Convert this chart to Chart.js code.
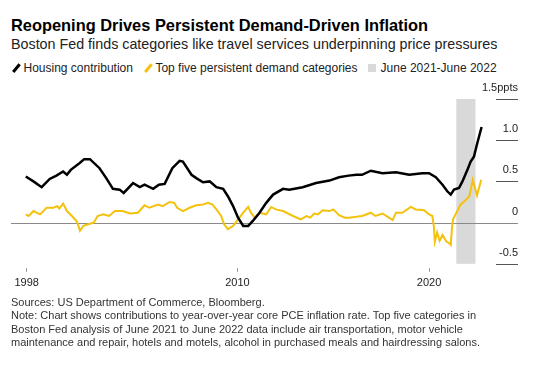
<!DOCTYPE html>
<html>
<head>
<meta charset="utf-8">
<script src="https://cdn.jsdelivr.net/npm/chart.js@4.4.0/dist/chart.umd.min.js"></script>
<style>
  body { margin: 0; width: 539px; height: 368px; background: #fff; position: relative; overflow: hidden;
         font-family: 'Liberation Sans', Arial, sans-serif; }
  #title { position: absolute; left: 11px; top: 16px; font-size: 16.4px; font-weight: bold; line-height: 19px; color: #000; white-space: nowrap; }
  #subtitle { position: absolute; left: 11px; top: 36px; font-size: 14.3px; line-height: 17px; color: #222; white-space: nowrap; }
  #legend { position: absolute; left: 11px; top: 60px; font-size: 12px; line-height: 16px; color: #222; display: flex; white-space: nowrap; }
  .item { display: flex; align-items: center; margin-right: 10px; }
  .slash { display: inline-block; width: 2.5px; height: 10px; margin: 0 6px 0 4px; transform: rotate(40deg); }
  .box { display: inline-block; width: 8px; height: 8px; margin-right: 5px; }
  #wrap { position: absolute; left: 0; top: 80px; width: 539px; height: 217px; }
  #note { position: absolute; left: 11px; top: 296px; font-size: 11px; line-height: 13.3px; color: #333; white-space: nowrap; }
</style>
</head>
<body>
<div id="title">Reopening Drives Persistent Demand-Driven Inflation</div>
<div id="subtitle">Boston Fed finds categories like travel services underpinning price pressures</div>
<div id="legend"></div>
<div id="wrap"><canvas id="chart"></canvas></div>
<div id="note">Sources: US Department of Commerce, Bloomberg.<br>
Note: Chart shows contributions to year-over-year core PCE inflation rate. Top five categories in<br>
Boston Fed analysis of June 2021 to June 2022 data include air transportation, motor vehicle<br>
maintenance and repair, hotels and motels, alcohol in purchased meals and hairdressing salons.</div>

<script>
// Housing contribution (ppts)
const housingYears = [1998.95, 1999.35, 1999.78, 2000.2, 2000.55, 2000.9, 2001.1, 2001.3, 2001.75, 2002.0,
  2002.3, 2002.8, 2003.15, 2003.5, 2003.85, 2004.06, 2004.55, 2004.9, 2005.15, 2005.6,
  2005.9, 2006.2, 2006.6, 2006.98, 2007.15, 2007.6, 2007.85, 2008.2, 2008.55, 2008.9,
  2009.25, 2009.5, 2009.77, 2010.03, 2010.3, 2010.56, 2010.8, 2011.15, 2011.5, 2011.86,
  2012.38, 2012.7, 2013.4, 2014.1, 2014.8, 2015.3, 2015.8, 2016.2, 2016.5, 2016.96,
  2017.57, 2018.27, 2018.96, 2019.65, 2020.0, 2020.35, 2020.7, 2020.95, 2021.13, 2021.3,
  2021.56, 2021.74, 2022.0, 2022.17, 2022.34, 2022.5, 2022.74];
const housingValues = [0.56, 0.50, 0.43, 0.53, 0.57, 0.62, 0.58, 0.64, 0.72, 0.77,
  0.77, 0.66, 0.54, 0.41, 0.40, 0.36, 0.48, 0.43, 0.46, 0.41,
  0.46, 0.47, 0.66, 0.75, 0.74, 0.58, 0.54, 0.49, 0.50, 0.43,
  0.41, 0.32, 0.20, 0.06, -0.04, -0.04, 0.02, 0.12, 0.24, 0.34,
  0.41, 0.40, 0.43, 0.48, 0.51, 0.55, 0.57, 0.58, 0.58, 0.63,
  0.60, 0.61, 0.58, 0.60, 0.60, 0.55, 0.46, 0.38, 0.34, 0.40,
  0.42, 0.50, 0.64, 0.74, 0.80, 0.95, 1.16];

// Top five persistent demand categories (ppts)
const demandYears = [1998.95, 1999.1, 1999.35, 1999.7, 2000.04, 2000.4, 2000.6, 2000.7, 2000.9, 2001.1,
  2001.36, 2001.6, 2001.7, 2001.78, 2001.96, 2002.2, 2002.5, 2002.7, 2003.0, 2003.3,
  2003.6, 2004.0, 2004.4, 2004.8, 2005.15, 2005.4, 2005.85, 2006.1, 2006.46, 2006.7,
  2006.85, 2007.15, 2007.5, 2007.85, 2008.2, 2008.46, 2008.7, 2008.9, 2009.15, 2009.3,
  2009.5, 2009.77, 2010.03, 2010.3, 2010.56, 2010.7, 2010.9, 2011.15, 2011.5, 2011.76,
  2012.0, 2012.38, 2012.9, 2013.3, 2013.6, 2013.8, 2014.0, 2014.2, 2014.45, 2014.8,
  2015.0, 2015.3, 2015.6, 2015.83, 2016.2, 2016.5, 2016.96, 2017.2, 2017.57, 2017.9,
  2018.1, 2018.27, 2018.6, 2019.05, 2019.3, 2019.74, 2020.0, 2020.17, 2020.25, 2020.3,
  2020.42, 2020.55, 2020.7, 2020.9, 2021.05, 2021.13, 2021.2, 2021.25, 2021.38, 2021.65,
  2021.9, 2022.1, 2022.28, 2022.5, 2022.72];
const demandValues = [0.10, 0.08, 0.14, 0.10, 0.18, 0.18, 0.20, 0.17, 0.23, 0.14,
  0.08, 0.02, -0.04, -0.10, -0.04, -0.02, 0.00, 0.08, 0.10, 0.08,
  0.14, 0.14, 0.11, 0.12, 0.21, 0.18, 0.22, 0.20, 0.25, 0.24,
  0.18, 0.14, 0.18, 0.21, 0.22, 0.24, 0.22, 0.16, 0.08, -0.02,
  -0.08, -0.04, 0.04, 0.12, 0.19, 0.12, 0.06, 0.12, 0.10, 0.19,
  0.16, 0.14, 0.08, 0.04, 0.08, 0.06, 0.11, 0.10, 0.15, 0.14,
  0.16, 0.09, 0.06, 0.06, 0.07, 0.08, 0.12, 0.08, 0.11, 0.06,
  0.03, 0.12, 0.12, 0.19, 0.16, 0.15, 0.10, 0.08, -0.05, -0.23,
  -0.12, -0.22, -0.15, -0.23, -0.25, -0.27, -0.05, 0.04, 0.10, 0.22,
  0.27, 0.32, 0.52, 0.33, 0.52];

// Shaded period: June 2021 - June 2022
const shadeStart = 2021.42;
const shadeEnd = 2022.42;

const xTickValues = [1999, 2010, 2020];
const xTickLabels = ['1998', '2010', '2020'];
const yTickValues = [-0.5, 0, 0.5, 1.0, 1.5];
const yTickLabels = ['-0.5', '0', '0.5', '1.0', '1.5ppts'];

const seriesLabels = ['Housing contribution', 'Top five persistent demand categories'];
const seriesColors = ['#000000', '#f4c20d'];
const shadeLabel = 'June 2021-June 2022';
const shadeColor = '#d9d9d9';

Chart.defaults.font.family = "'Liberation Sans', Arial, sans-serif";

// shaded band, zero line and the short gridlines at the right
const backdrop = {
  id: 'backdrop',
  beforeDatasetsDraw(chart) {
    const { ctx, chartArea, scales } = chart;
    const x1 = scales.x.getPixelForValue(shadeStart);
    const x2 = scales.x.getPixelForValue(shadeEnd);
    ctx.save();
    ctx.fillStyle = shadeColor;
    ctx.fillRect(x1, chartArea.top, x2 - x1, chartArea.bottom - chartArea.top);
    yTickValues.forEach(v => {
      const y = Math.round(scales.y.getPixelForValue(v)) + 0.5;
      ctx.beginPath();
      if (v === 0) {
        ctx.strokeStyle = '#8a8a8a';
        ctx.moveTo(chartArea.left, y);
      } else {
        ctx.strokeStyle = '#555';
        ctx.moveTo(chartArea.right - 22, y);
      }
      ctx.lineTo(chartArea.right, y);
      ctx.lineWidth = 1;
      ctx.stroke();
    });
    ctx.restore();
  }
};

const ctx = document.getElementById('chart').getContext('2d');
const chart = new Chart(ctx, {
  type: 'line',
  data: {
    datasets: [{
      label: seriesLabels[0],
      data: housingYears.map((x, i) => ({ x: x, y: housingValues[i] })),
      borderColor: seriesColors[0],
      borderWidth: 2.5,
      pointRadius: 0,
      tension: 0
    }, {
      label: seriesLabels[1],
      data: demandYears.map((x, i) => ({ x: x, y: demandValues[i] })),
      borderColor: seriesColors[1],
      borderWidth: 2,
      pointRadius: 0,
      tension: 0
    }]
  },
  options: {
    responsive: true,
    maintainAspectRatio: false,
    animation: false,
    layout: { padding: { left: 11, right: 13, top: 19, bottom: 2 } },
    plugins: { legend: { display: false }, tooltip: { enabled: false } },
    scales: {
      x: {
        type: 'linear',
        min: 1998.18,
        max: 2024.64,
        afterBuildTicks: axis => { axis.ticks = xTickValues.map(v => ({ value: v })); },
        grid: { drawOnChartArea: false, drawTicks: true, tickLength: 8, tickColor: '#999', tickBorderDash: [0, 4, 4, 0] },
        border: { display: false },
        ticks: {
          padding: 5,
          color: '#222',
          font: { size: 11 },
          maxRotation: 0,
          callback: v => xTickLabels[xTickValues.indexOf(v)]
        }
      },
      y: {
        position: 'right',
        min: -0.5,
        max: 1.5,
        afterBuildTicks: axis => { axis.ticks = yTickValues.map(v => ({ value: v })); },
        grid: { display: false },
        border: { display: false },
        ticks: {
          mirror: true,
          padding: 0,
          labelOffset: -11,
          color: '#222',
          font: { size: 11 },
          callback: v => yTickLabels[yTickValues.indexOf(v)]
        }
      }
    }
  },
  plugins: [backdrop]
});

// legend built from the datasets
const legend = document.getElementById('legend');
chart.data.datasets.forEach(ds => {
  const item = document.createElement('span');
  item.className = 'item';
  item.innerHTML = '<span class="slash" style="background:' + ds.borderColor + '"></span>' + ds.label;
  legend.appendChild(item);
});
const shadeItem = document.createElement('span');
shadeItem.className = 'item';
shadeItem.innerHTML = '<span class="box" style="background:' + shadeColor + '"></span>' + shadeLabel;
legend.appendChild(shadeItem);
</script>
</body>
</html>
